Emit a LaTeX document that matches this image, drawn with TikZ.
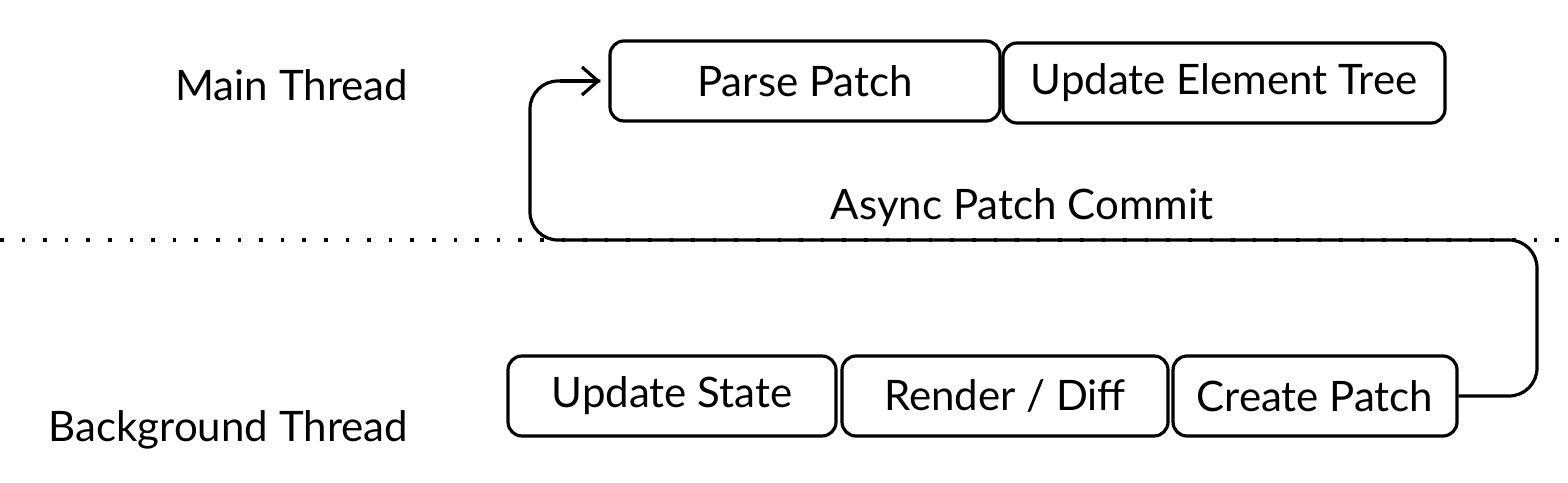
\documentclass[tikz,border=0pt]{standalone}
\usepackage{fontspec}
\setmainfont{Lato}
\usetikzlibrary{arrows.meta}
\usetikzlibrary{positioning}
\begin{document}
\begin{tikzpicture}[x=0.5pt,y=-0.5pt,
        stage/.style={draw, line width=1.6pt, rounded corners=7pt, minimum height=40pt,
                     inner sep=0pt, font=\fontsize{21}{24}\selectfont},
        lane/.style={font=\fontsize{21}{24}\selectfont},
        flow/.style={line width=1.6pt, rounded corners=14pt}
                            ]
        \useasboundingbox (0,0) rectangle (1568,482);
        % lanes
        \node[lane, anchor=east] (main) at (415,85) {Main Thread};
        \node[lane, anchor=east] (bg) at (415,430) {Background Thread};
        \draw[line width=1.8pt, dash pattern=on 1.8pt off 9pt] (0,240) -- (1568,240);
        % main thread
        \node[stage, minimum width=195pt] (parse) at (805,81) {Parse Patch};
        \node[stage, minimum width=221pt] (tree) at (1224,83) {Update Element Tree};
        % background thread
        \node[stage, minimum width=164pt] (state) at (672,396) {Update State};
        \node[stage, minimum width=163pt] (diff) at (1005,396) {Render / Diff};
        \node[stage, minimum width=142pt] (create) at (1315,396) {Create Patch};
        % commit
        \coordinate (c1) at (1537,396);
        \coordinate (c2) at (1537,240);
        \coordinate (c3) at (530,240);
        \coordinate (c4) at (530,81);
        \draw[flow] (create.east) -- (c1) -- (c2) -- (c3) -- (c4) -- ([xshift=-4pt]parse.west);
        \draw[line width=1.6pt, -{Straight Barb[length=8pt,width=14pt]}] ([xshift=-24pt]parse.west) -- ([xshift=-4pt]parse.west);
        \node[lane] (commit) at (1022,208) {Async Patch Commit};
    \end{tikzpicture}
\end{document}
